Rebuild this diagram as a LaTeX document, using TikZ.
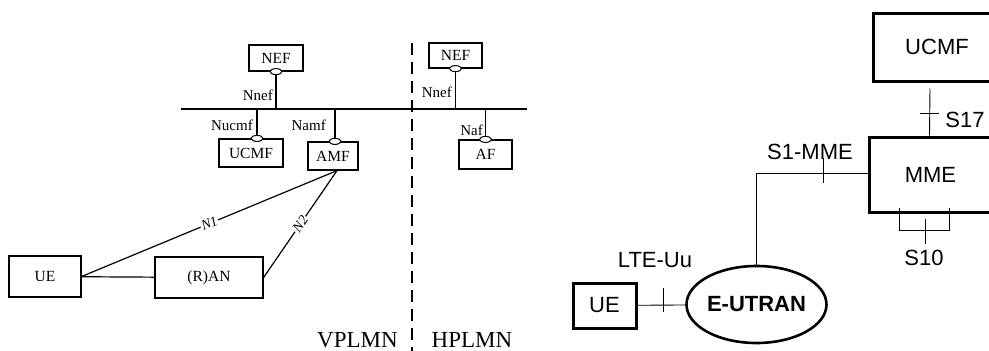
\documentclass[tikz,border=0pt]{standalone}
\usepackage{fontspec}
\setmainfont{Liberation Serif}
\newfontfamily\arialfont{Liberation Sans}
\usetikzlibrary{positioning, calc, shapes.geometric}

\begin{document}
\begin{tikzpicture}[x=1pt, y=-1pt,
  nfbox/.style={draw, line width=1.2pt, inner sep=0pt, font=\fontsize{15.5}{18}\selectfont},
  sif/.style={draw, ellipse, fill=white, line width=1pt, minimum width=12pt, minimum height=6pt, inner sep=0pt},
  ifname/.style={anchor=east, inner sep=0pt, font=\fontsize{15}{18}\selectfont},
  refpt/.style={sloped, fill=white, inner sep=1pt, font=\itshape\fontsize{14}{16}\selectfont},
  epsbox/.style={draw, line width=3pt, inner sep=0pt, font=\arialfont\fontsize{22}{26}\selectfont},
  epsline/.style={line width=0.9pt},
  epslbl/.style={inner sep=0pt, font=\arialfont\fontsize{22}{26}\selectfont}]
\useasboundingbox (0,0) rectangle (989,351);

% service based side
\coordinate (busL) at (181,109);
\coordinate (busR) at (527,109);
\draw[line width=1.2pt] (busL) -- (busR);
\coordinate (divT) at (412,43);
\coordinate (divB) at (412,351);
\draw[line width=1.2pt, dash pattern=on 12pt off 7pt] (divT) -- (divB);

\node[nfbox, minimum width=54pt, minimum height=26pt] (nefv) at (276,58) {NEF};
\node[nfbox, minimum width=53pt, minimum height=25pt] (nefh) at (455.5,55.5) {NEF};
\node[nfbox, minimum width=64pt, minimum height=28pt] (ucmfv) at (251,153) {UCMF};
\node[nfbox, minimum width=50pt, minimum height=28pt] (amf) at (333,156) {AMF};
\node[nfbox, minimum width=53pt, minimum height=29pt] (af) at (485.5,154.5) {AF};
\node[nfbox, minimum width=72pt, minimum height=41pt] (uel) at (45,276.5) {UE};
\node[nfbox, minimum width=108pt, minimum height=41pt] (ran) at (209,277.5) {(R)AN};

\node[sif] (nefv-if) at (nefv.south) {};
\node[sif] (nefh-if) at (nefh.south) {};
\node[sif] (ucmfv-if) at ([xshift=6pt]ucmfv.north) {};
\node[sif] (amf-if) at ([xshift=2pt]amf.north) {};
\node[sif] (af-if) at (af.north) {};
\draw[line width=1.2pt] (nefv-if) -- (nefv-if |- busL);
\draw[line width=1.2pt] (nefh-if) -- (nefh-if |- busL);
\draw[line width=1.2pt] (ucmfv-if) -- (ucmfv-if |- busL);
\draw[line width=1.2pt] (amf-if) -- (amf-if |- busL);
\draw[line width=1.2pt] (af-if) -- (af-if |- busL);

\node[ifname] (nefv-lbl) at (273,95) {Nnef};
\node[ifname] (nefh-lbl) at (452,92) {Nnef};
\node[ifname] (ucmfv-lbl) at (253,125) {Nucmf};
\node[ifname] (amf-lbl) at (326,125) {Namf};
\node[ifname] (af-lbl) at (483,130) {Naf};

\coordinate (amfin) at ([xshift=4pt]amf.south);
\draw[line width=1.2pt] (uel) -- (ran);
\draw[line width=1.2pt] (uel.east) -- node[refpt] {N1} (amfin);
\draw[line width=1.2pt] (ran.east) -- node[refpt] {N2} (amfin);

\node[font=\fontsize{23}{26}\selectfont, inner sep=0pt] (vplmn) at (357.5,340) {VPLMN};
\node[font=\fontsize{23}{26}\selectfont, inner sep=0pt] (hplmn) at (472,340) {HPLMN};

% EPS side
\node[epsbox, anchor=west, minimum width=160pt, minimum height=68pt,
  label={[epslbl, xshift=-16.5pt]center:UCMF}] (ucmf) at (872,47) {};
\node[epsbox, anchor=west, minimum width=160pt, minimum height=75pt,
  label={[epslbl, xshift=-19pt]center:MME}] (mme) at (868,174.5) {};
\node[epsbox, ellipse, line width=2.6pt, minimum width=137pt, minimum height=77pt,
  font=\arialfont\bfseries\fontsize{22}{26}\selectfont] (eutran) at (756.5,304.5) {E-UTRAN};
\node[epsbox, minimum width=63pt, minimum height=45pt] (uer) at (604.5,305.5) {UE};

\draw[epsline] ([xshift=-23.5pt, yshift=-6pt]ucmf.south) -- coordinate[pos=0.54] (s17t) ([xshift=-20pt]mme.north);
\draw[epsline] ($(s17t)+(-10,0)$) -- ++(19,0);
\node[epslbl] (s17) at (965,120) {S17};

\draw[epsline] ([yshift=1.5pt]mme.west) -| coordinate[pos=0.2] (s1t) (eutran.north);
\draw[epsline] ($(s1t)+(0,-15)$) -- ++(0,25);
\node[epslbl] (s1mme) at (810,152) {S1-MME};

\draw[epsline] ($(mme.south)+(-50,-6)$) -- ++(0,23) -| ++(50,-23);
\draw[epsline] ($(mme.south)+(-24,5)$) -- ++(0,25);
\node[epslbl] (s10) at (924,258) {S10};

\draw[epsline] (uer) -- coordinate[pos=0.54] (uut) (eutran);
\draw[epsline] ($(uut)+(0,-17)$) -- ++(0,24);
\node[epslbl] (lteuu) at (655,260) {LTE-Uu};
\end{tikzpicture}
\end{document}
